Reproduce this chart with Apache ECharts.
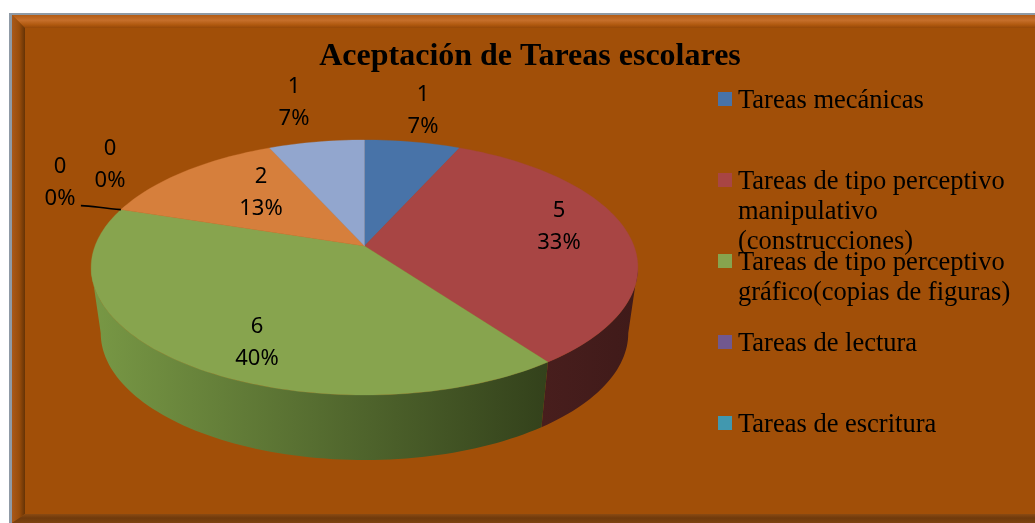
<!DOCTYPE html>
<html>
<head>
<meta charset="utf-8">
<style>html,body{margin:0;padding:0;background:#fff}#c{width:1035px;height:523px}</style>
<script src="https://cdn.jsdelivr.net/npm/echarts@6/dist/echarts.min.js"></script>
</head>
<body>
<div id="c"></div>
<script>
// ---- data ----
const chartTitle = 'Aceptación de Tareas escolares';
// The reference's legend names only the first five slices; the last two stay unnamed.
const categories = [
  'Tareas mecánicas',
  'Tareas de tipo perceptivo manipulativo (construcciones)',
  'Tareas de tipo perceptivo gráfico(copias de figuras)',
  'Tareas de lectura',
  'Tareas de escritura',
  '',
  ''
];
const values = [1, 5, 6, 0, 0, 2, 1];
const legendLines = [
  ['Tareas mecánicas'],
  ['Tareas de tipo perceptivo', 'manipulativo', '(construcciones)'],
  ['Tareas de tipo perceptivo', 'gráfico(copias de figuras)'],
  ['Tareas de lectura'],
  ['Tareas de escritura']
];

// ---- styling / layout ----
const sliceColors = ['#4873A8', '#A84544', '#87A44E', '#71588F', '#4198AF', '#D67F3C', '#92A6CE'];
const wallColors = [
  ['#2b4563', '#2b4563'], ['#481e1d', '#3f1a19'], ['#789845', '#33411b'],
  ['#3c2e4c', '#3c2e4c'], ['#23525e', '#23525e'], ['#75461f', '#75461f'], ['#4e5a6e', '#4e5a6e']
];
const labelPos = [[423, 111], [559, 227], [257, 343], [60, 183], [110, 165], [261, 193], [294, 103]];
const PERSP = 0.1686;
const topFace = { cx: 364.5, cy: 246, a: 269.5, b: 123.9 };
const baseFace = { cx: 364.5, cy: 311.6, a: 260, b: 123.4 };
const total = values.reduce((s, v) => s + v, 0);
const BG = '#A14F08';

function project(f, deg) {
  const t = deg * Math.PI / 180, u = Math.sin(t), v = -Math.cos(t), d = 1 - PERSP * v;
  return [f.cx + f.a * u / d, f.cy + f.b * v / d];
}
function arc(f, from, to) {
  const n = Math.max(2, Math.ceil(Math.abs(to - from) / 1.5)), pts = [];
  for (let i = 0; i <= n; i++) pts.push(project(f, from + (to - from) * i / n));
  return pts;
}
// Angles where the disc's outline turns away from the viewer
const wallStart = Math.acos(-PERSP) * 180 / Math.PI, wallEnd = 360 - wallStart;

function renderItem(params, api) {
  const i = params.dataIndex, val = api.value(0);
  let before = 0;
  for (let k = 0; k < i; k++) before += values[k];
  const a0 = before / total * 360, a1 = (before + val) / total * 360;
  const children = [];
  const w0 = Math.max(a0, wallStart), w1 = Math.min(a1, wallEnd);
  if (val > 0 && w1 > w0) {
    const pts = arc(topFace, w0, w1).concat(arc(baseFace, w1, w0));
    const xs = pts.map(p => p[0]);
    const x0 = Math.min.apply(null, xs), x1 = Math.max.apply(null, xs);
    children.push({
      type: 'polygon', shape: { points: pts },
      style: {
        fill: new echarts.graphic.LinearGradient(x0, 0, x1, 0, [
          { offset: 0, color: wallColors[i][0] }, { offset: 1, color: wallColors[i][1] }
        ], true)
      }
    });
  }
  if (val > 0) {
    const pts = [[topFace.cx, topFace.cy]].concat(arc(topFace, a0, a1));
    children.push({ type: 'polygon', z2: 5, shape: { points: pts }, style: { fill: sliceColors[i], stroke: sliceColors[i], lineWidth: 0.3 } });
  }
  const pct = Math.round(val / total * 100);
  children.push({
    type: 'text', z2: 10, x: labelPos[i][0], y: labelPos[i][1],
    style: {
      text: val + '\n' + pct + '%', fill: '#000', align: 'center', verticalAlign: 'middle',
      fontFamily: 'Noto Sans', fontSize: 22, lineHeight: 32
    }
  });
  return { type: 'group', children };
}

// ---- frame and legend ----
const frame = [
  { type: 'rect', z: -10, shape: { x: 9, y: 13, width: 1026, height: 510 }, style: { fill: '#8f9aa6' } },
  { type: 'rect', z: -9, shape: { x: 12, y: 15, width: 1023, height: 508 }, style: { fill: BG } },
  { type: 'polygon', z: -8, shape: { points: [[12, 15], [1035, 15], [1035, 28], [25, 28]] },
    style: { fill: new echarts.graphic.LinearGradient(0, 0, 0, 1, [
      { offset: 0, color: '#b25c15' }, { offset: 0.4, color: '#c66f2b' }, { offset: 0.75, color: '#b0590f' }, { offset: 1, color: '#954808' }]) } },
  { type: 'polygon', z: -8, shape: { points: [[12, 15], [25, 28], [25, 514], [12, 523]] },
    style: { fill: new echarts.graphic.LinearGradient(0, 0, 1, 0, [
      { offset: 0, color: '#a9591a' }, { offset: 0.55, color: '#9a4d0b' }, { offset: 1, color: '#653306' }]) } },
  { type: 'polygon', z: -8, shape: { points: [[25, 514], [1035, 514], [1035, 523], [12, 523]] },
    style: { fill: new echarts.graphic.LinearGradient(0, 0, 0, 1, [
      { offset: 0, color: '#8a4a12' }, { offset: 0.45, color: '#6f3a0c' }, { offset: 1, color: '#7d4310' }]) } }
];
const legendRowY = [99, 180, 261, 342, 423];
const legendEls = [];
legendLines.forEach((lines, i) => {
  legendEls.push({ type: 'rect', shape: { x: 718, y: legendRowY[i] - 7, width: 14, height: 14 }, style: { fill: sliceColors[i] } });
  lines.forEach((ln, j) => legendEls.push({
    type: 'text', x: 738, y: legendRowY[i] + 2 + j * 30,
    style: { text: ln, fill: '#000', font: '26.5px "Liberation Serif"', verticalAlign: 'middle', align: 'left' }
  }));
});

// Leader line of the zero slice, starting at the rim point where that slice sits
const zeroAngle = values.slice(0, 3).reduce((s, v) => s + v, 0) / total * 360;
const rim = project(topFace, zeroAngle);
const leader = {
  type: 'bezierCurve', z: 20,
  shape: { x1: rim[0], y1: rim[1], x2: rim[0] - 40, y2: rim[1] - 4, cpx1: rim[0] - 18, cpy1: rim[1] - 1, cpx2: rim[0] - 28, cpy2: rim[1] - 4 },
  style: { stroke: '#000', lineWidth: 1.6, fill: null }
};

const chart = echarts.init(document.getElementById('c'), null, { renderer: 'canvas' });
chart.setOption({
  animation: false,
  backgroundColor: '#fff',
  title: {
    text: chartTitle, left: 525, top: 36, textAlign: 'center',
    textStyle: { fontFamily: 'Liberation Serif', fontWeight: 'bold', fontSize: 32, color: '#000' }
  },
  graphic: frame.concat(legendEls, [leader]),
  series: [{
    type: 'custom', coordinateSystem: 'none', silent: true,
    data: values.map((v, i) => ({ name: categories[i], value: [v] })),
    renderItem
  }]
});
</script>
</body>
</html>
